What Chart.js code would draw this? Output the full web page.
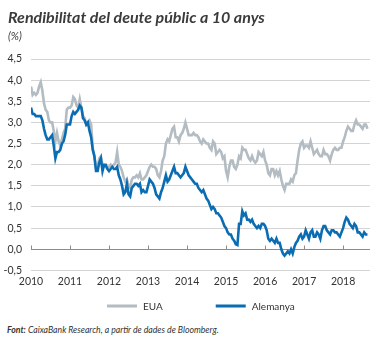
<!DOCTYPE html>
<html>
<head>
<meta charset="utf-8">
<script src="https://cdn.jsdelivr.net/npm/chart.js@4.4.1/dist/chart.umd.min.js"></script>
<style>
  body { margin: 0; background: #fff; width: 380px; height: 338px; overflow: hidden; position: relative; }
  #title { position: absolute; left: 8px; top: 7px; font: italic bold 16px Lato, sans-serif; color: #3b3b3b; white-space: nowrap; }
  #unit { position: absolute; left: 8px; top: 29px; font: italic 11px Lato, sans-serif; color: #3b3b3b; }
  #wrap { position: absolute; left: 0; top: 0; width: 380px; height: 322px; }
  #source { position: absolute; left: 7px; top: 324px; font: italic 8.7px Lato, sans-serif; color: #333; white-space: nowrap; }
</style>
</head>
<body>
<div id="wrap"><canvas id="yieldChart"></canvas></div>
<div id="title">Rendibilitat del deute públic a 10 anys</div>
<div id="unit">(%)</div>
<div id="source"><b>Font:</b> CaixaBank Research, a partir de dades de Bloomberg.</div>
<script>
// === Data: 10-year yields, two readings per month (Jan 2010 - Aug 2018) ===
const years = [2010, 2011, 2012, 2013, 2014, 2015, 2016, 2017, 2018];
const yTicks = [-0.5, 0, 0.5, 1, 1.5, 2, 2.5, 3, 3.5, 4, 4.5];

const eua = [
  3.85, 3.65, 3.7, 3.65, 3.7, 3.85, 3.95, 3.75, 3.45, 3.3, 3.25, 3.05, 3.0, 3.0, 2.8, 2.55, 2.75, 2.55, 2.45, 2.6, 2.75, 2.85, 3.3, 3.35,
  3.35, 3.4, 3.6, 3.55, 3.4, 3.35, 3.55, 3.35, 3.15, 3.1, 2.95, 3.0, 3.05, 2.95, 2.4, 2.2, 1.95, 1.95, 2.15, 2.2, 2.0, 1.95, 1.95, 1.9,
  1.95, 2.0, 1.95, 2.0, 2.05, 2.3, 2.0, 1.95, 1.85, 1.7, 1.6, 1.65, 1.5, 1.45, 1.65, 1.7, 1.7, 1.75, 1.7, 1.8, 1.65, 1.65, 1.7, 1.75,
  1.85, 1.95, 2.0, 1.95, 1.95, 1.9, 1.75, 1.7, 1.85, 2.1, 2.2, 2.5, 2.6, 2.55, 2.7, 2.85, 2.9, 2.65, 2.65, 2.55, 2.7, 2.75, 2.85, 3.0,
  2.85, 2.7, 2.7, 2.7, 2.75, 2.7, 2.7, 2.65, 2.55, 2.5, 2.6, 2.55, 2.5, 2.5, 2.4, 2.35, 2.55, 2.5, 2.25, 2.3, 2.35, 2.3, 2.15, 2.2,
  1.85, 1.7, 1.95, 2.1, 2.1, 1.95, 1.9, 2.0, 2.2, 2.15, 2.4, 2.35, 2.35, 2.25, 2.15, 2.1, 2.2, 2.1, 2.05, 2.1, 2.3, 2.25, 2.2, 2.3,
  2.1, 2.0, 1.8, 1.75, 1.9, 1.9, 1.75, 1.85, 1.75, 1.85, 1.65, 1.5, 1.4, 1.55, 1.55, 1.55, 1.65, 1.6, 1.75, 1.8, 2.1, 2.35, 2.5, 2.55,
  2.4, 2.45, 2.45, 2.4, 2.55, 2.4, 2.25, 2.3, 2.35, 2.25, 2.2, 2.2, 2.35, 2.25, 2.25, 2.2, 2.1, 2.25, 2.35, 2.4, 2.35, 2.35, 2.4, 2.4,
  2.55, 2.65, 2.8, 2.9, 2.85, 2.8, 2.8, 2.95, 3.05, 2.95, 2.95, 2.9, 2.85, 2.95, 2.95, 2.85
];

const alemanya = [
  3.35, 3.2, 3.2, 3.15, 3.15, 3.15, 3.15, 3.05, 2.85, 2.7, 2.6, 2.6, 2.65, 2.7, 2.45, 2.15, 2.3, 2.3, 2.35, 2.5, 2.55, 2.7, 2.95, 2.95,
  2.95, 3.15, 3.25, 3.2, 3.25, 3.3, 3.4, 3.35, 3.1, 3.05, 2.95, 3.0, 2.8, 2.65, 2.35, 2.2, 1.85, 1.85, 2.05, 2.15, 1.85, 2.0, 2.0, 1.9,
  1.85, 1.9, 1.95, 1.9, 1.9, 1.95, 1.75, 1.65, 1.5, 1.3, 1.35, 1.55, 1.3, 1.25, 1.45, 1.5, 1.55, 1.55, 1.5, 1.55, 1.35, 1.4, 1.35, 1.35,
  1.5, 1.65, 1.6, 1.55, 1.45, 1.3, 1.25, 1.2, 1.35, 1.45, 1.6, 1.75, 1.6, 1.65, 1.75, 1.85, 1.95, 1.8, 1.8, 1.75, 1.7, 1.75, 1.8, 1.95,
  1.85, 1.75, 1.7, 1.65, 1.6, 1.55, 1.55, 1.45, 1.4, 1.35, 1.4, 1.3, 1.2, 1.15, 1.05, 0.95, 1.0, 0.95, 0.85, 0.85, 0.8, 0.75, 0.65, 0.55,
  0.5, 0.4, 0.35, 0.35, 0.25, 0.2, 0.12, 0.1, 0.6, 0.6, 0.9, 0.8, 0.85, 0.7, 0.7, 0.65, 0.7, 0.6, 0.55, 0.5, 0.55, 0.5, 0.6, 0.6,
  0.55, 0.45, 0.25, 0.2, 0.25, 0.2, 0.15, 0.25, 0.15, 0.15, 0.0, -0.1, -0.15, -0.1, -0.05, -0.1, 0.0, -0.1, 0.05, 0.15, 0.2, 0.3, 0.35, 0.25,
  0.3, 0.45, 0.35, 0.25, 0.4, 0.45, 0.3, 0.3, 0.4, 0.35, 0.25, 0.45, 0.55, 0.55, 0.45, 0.4, 0.35, 0.45, 0.45, 0.4, 0.4, 0.35, 0.3, 0.4,
  0.5, 0.65, 0.75, 0.7, 0.6, 0.55, 0.5, 0.6, 0.55, 0.4, 0.4, 0.35, 0.3, 0.4, 0.35, 0.35
];

const GRAY = '#b3bcc2';
const BLUE = '#0a6db3';

// each reading sits at its half-month position on the time axis
const toPoints = arr => arr.map((v, i) => ({ x: years[0] + i / 24, y: v }));

// zero line with small year ticks pointing up
const zeroAxis = {
  id: 'zeroAxis',
  beforeDatasetsDraw(chart) {
    const { ctx, scales: { x, y } } = chart;
    const y0 = Math.round(y.getPixelForValue(0)) + 0.5;
    ctx.save();
    ctx.strokeStyle = '#8c8c8c';
    ctx.lineWidth = 1;
    ctx.beginPath();
    years.forEach(yr => {
      const px = Math.round(x.getPixelForValue(yr)) + 0.5;
      ctx.moveTo(px, y0);
      ctx.lineTo(px, y0 - 4);
    });
    ctx.stroke();
    ctx.restore();
  }
};

// legend row under the axis: short thick line + series name
const lineLegend = {
  id: 'lineLegend',
  afterDraw(chart) {
    const { ctx } = chart;
    const items = chart.data.datasets.slice().reverse();
    const rowY = 306;
    let x = 107;
    ctx.save();
    ctx.font = '10px Lato';
    ctx.textBaseline = 'middle';
    items.forEach(ds => {
      ctx.fillStyle = ds.borderColor;
      ctx.fillRect(x, rowY - 1.5, 30, 3);
      ctx.fillStyle = '#333';
      ctx.fillText(ds.label, x + 36, rowY + 0.5);
      x += 36 + ctx.measureText(ds.label).width + 53;
    });
    ctx.restore();
  }
};

const ctx = document.getElementById('yieldChart').getContext('2d');
new Chart(ctx, {
  type: 'line',
  data: {
    datasets: [
      {
        label: 'Alemanya',
        data: toPoints(alemanya),
        borderColor: BLUE,
        backgroundColor: BLUE,
        borderWidth: 2.6,
        pointRadius: 0,
        tension: 0
      },
      {
        label: 'EUA',
        data: toPoints(eua),
        borderColor: GRAY,
        backgroundColor: GRAY,
        borderWidth: 2.6,
        pointRadius: 0,
        tension: 0
      }
    ]
  },
  options: {
    responsive: true,
    maintainAspectRatio: false,
    animation: false,
    layout: { padding: { top: 59, right: 10, left: 0, bottom: 29 } },
    plugins: {
      tooltip: { enabled: false },
      legend: { display: false }
    },
    scales: {
      x: {
        type: 'linear',
        min: 2010,
        max: 2018.69,
        grid: { display: false, drawTicks: false },
        border: { display: false },
        ticks: {
          stepSize: 1,
          includeBounds: false,
          autoSkip: false,
          maxRotation: 0,
          padding: 5,
          color: '#333',
          font: { family: 'Lato', size: 10.5 },
          callback: v => Number.isInteger(v) ? String(v) : ''
        }
      },
      y: {
        min: -0.5,
        max: 4.5,
        afterFit: s => { s.width = 31; },
        afterBuildTicks: s => { s.ticks = yTicks.map(v => ({ value: v })); },
        grid: {
          drawTicks: false,
          color: c => c.tick && c.tick.value === 0 ? '#8c8c8c' : '#d4d4d4',
          lineWidth: 1
        },
        border: { display: false },
        ticks: {
          autoSkip: false,
          padding: 9,
          color: '#333',
          font: { family: 'Lato', size: 10.5 },
          callback: v => v.toFixed(1).replace('.', ',')
        }
      }
    }
  },
  plugins: [zeroAxis, lineLegend]
});
</script>
</body>
</html>
